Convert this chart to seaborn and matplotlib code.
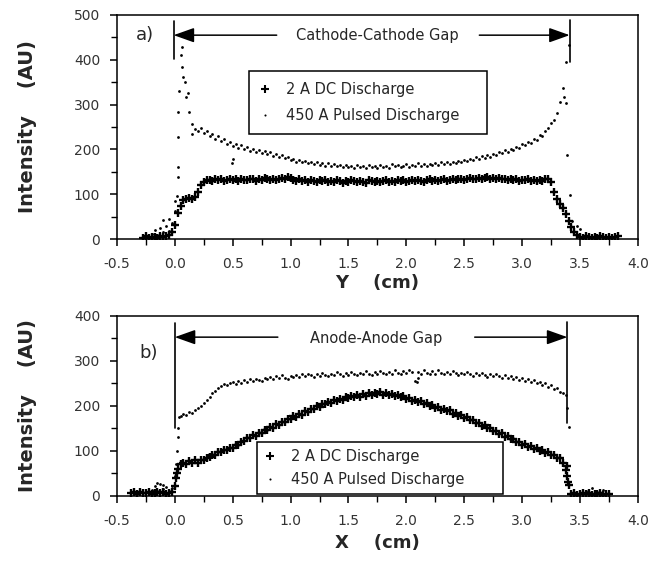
import numpy as np
import matplotlib
matplotlib.use("Agg")
import matplotlib.pyplot as plt
from matplotlib.lines import Line2D
from matplotlib.ticker import MultipleLocator
import seaborn as sns

# ---------------- data ----------------
STEP = 0.025

# panel a) : along Y, Cathode-Cathode gap
dc_a_x0 = -0.275
dc_a_y = [3, 6, 2, 5, 4, 2, 7, 4, 6, 9,
          16, 32, 58, 74, 86, 89, 91, 90, 94, 104, 121, 128, 131,
          132, 130, 133, 131, 134, 130, 132, 135, 131, 133,
          130, 134, 132, 131, 135, 133, 130, 134, 132, 136,
          133, 131, 135, 132, 134, 137, 133, 139, 136, 132,
          130, 133, 129, 131, 128, 132, 130, 127, 131, 129,
          132, 128, 130, 127, 131, 129, 126, 130, 128, 131,
          129, 127, 130, 128, 126, 131, 129, 128, 130, 127,
          129, 131, 128, 130, 127, 132, 129, 131, 128, 130,
          131, 129, 132, 130, 128, 131, 133, 130, 132, 129,
          131, 133, 130, 132, 134, 131, 133, 135, 132, 134,
          136, 133, 135, 137, 134, 136, 138, 135, 137, 134,
          136, 133, 135, 132, 134, 131, 133, 130, 132, 131,
          133, 130, 132, 129, 131, 130, 133, 135,
          128, 104, 90, 79, 70, 56, 40, 26, 15, 9,
          5, 3, 6, 4, 2, 5, 3, 6, 4, 3, 5, 2, 4, 6]

pulsed_a_x0 = -0.2
pulsed_a_y = [12, 20, 9, 24, 15, 28, 19, 36,
              62, 160, 410, 362, 318, 284, 256, 246, 240,
              247, 236, 241, 231, 234, 224, 229, 219, 223, 213,
              217, 207, 211, 204, 209, 200, 205, 197, 202, 194,
              199, 193, 197, 189, 194, 186, 190, 183, 187, 180,
              182, 176, 179, 173, 177, 171, 175, 169, 173, 168,
              172, 166, 170, 164, 169, 163, 167, 162, 166, 161,
              165, 160, 164, 159, 166, 161, 163, 158, 165, 160,
              163, 158, 166, 161, 164, 159, 167, 162, 165, 160,
              164, 168, 161, 166, 163, 169, 164, 167, 162, 168,
              165, 170, 166, 172, 168, 171, 167, 173, 170, 175,
              171, 177, 174, 179, 176, 182, 179, 185, 181, 187,
              184, 190, 188, 194, 191, 198, 195, 202, 199, 206,
              204, 211, 209, 217, 215, 224, 222, 232, 230, 242,
              248, 258, 266, 282, 305, 336, 395, 432]
pulsed_a_extra_x = [-0.1, -0.05, 0.0, 0.02, 0.03, 0.03, 0.03, 0.04, 0.06, 0.065,
                    0.085, 0.11, 0.15, 0.49, 0.5, 3.36, 3.38, 3.385, 3.41, 3.43,
                    3.47, 3.5]
pulsed_a_extra_y = [42, 45, 85, 95, 138, 228, 283, 330, 428, 385,
                    350, 326, 235, 170, 178, 317, 304, 188, 98, 40,
                    30, 22]

# panel b) : along X, Anode-Anode gap
dc_b_x0 = -0.375
dc_b_y = [6, 8, 5, 9, 7, 6, 8, 5, 7, 9, 6, 8, 5, 7, 9,
          22, 60, 70,
          74, 71, 78, 74, 79, 73, 80, 81, 85, 86,
          91, 92, 97, 97, 102, 102, 107, 107, 113, 113,
          120, 122, 129, 128, 135, 134, 141, 139, 147, 146,
          153, 152, 159, 158, 165, 164, 171, 170, 177, 176,
          182, 181, 188, 187, 194, 193, 199, 198, 205, 204,
          209, 207, 213, 211, 216, 214, 219, 217, 222, 219,
          224, 221, 226, 223, 228, 224, 229, 226, 230, 225,
          229, 224, 227, 222, 225, 219, 222, 216, 218, 212,
          214, 208, 210, 204, 206, 200, 202, 196, 198, 192,
          194, 188, 190, 183, 185, 178, 180, 174, 175, 168,
          169, 162, 163, 156, 157, 150, 151, 144, 145, 138,
          139, 132, 133, 126, 127, 120, 121, 114, 115, 108,
          110, 104, 106, 100, 102, 96, 98, 91, 92, 84,
          85, 74, 58, 24,
          4, 6, 3, 5, 7, 4, 6, 3, 5, 4, 6, 3, 5, 4]
dc_b_extra_x = [0.01, 0.015, 3.385, 3.39, 3.395]
dc_b_extra_y = [40, 52, 66, 45, 32]

pulsed_b_x0 = -0.2
pulsed_b_y = [14, 22, 12, 26, 16, 20, 11, 18,
              45, 150, 178,
              182, 180, 186, 184, 190, 196, 200, 206, 214, 220,
              228, 234, 240, 244, 249, 246, 251, 253, 249, 255,
              252, 257, 254, 259, 256, 261, 258, 255, 262, 259,
              264, 260, 266, 262, 268, 263, 260, 267, 264, 269,
              265, 270, 266, 272, 268, 264, 271, 267, 273, 269,
              266, 272, 268, 275, 270, 267, 273, 269, 276, 271,
              268, 274, 270, 277, 272, 269, 276, 271, 278, 273,
              270, 276, 272, 279, 274, 271, 277, 273, 280, 275,
              255, 276, 272, 280, 274, 270, 277, 272, 279, 274,
              270, 276, 271, 277, 273, 268, 274, 270, 276, 271,
              267, 273, 268, 274, 269, 265, 271, 267, 272, 266,
              263, 268, 262, 267, 261, 265, 258, 263, 256, 260,
              253, 257, 250, 254, 247, 250, 243, 246, 238, 240,
              232, 229, 224]
pulsed_b_extra_x = [-0.15, -0.1, 0.01, 0.02, 0.03, 0.035, 2.09, 2.1, 3.39, 3.4,
                    3.55, 3.6, 3.65, 3.7]
pulsed_b_extra_y = [28, 24, 70, 100, 131, 176, 253, 262, 196, 154,
                    12, 18, 8, 14]

x_ticks = [-0.5, 0.0, 0.5, 1.0, 1.5, 2.0, 2.5, 3.0, 3.5, 4.0]
y_ticks_a = [0, 100, 200, 300, 400, 500]
y_ticks_b = [0, 100, 200, 300, 400]
labels = ["2 A DC Discharge", "450 A Pulsed Discharge"]


def grid(x0, vals):
    return np.round(x0 + STEP * np.arange(len(vals)), 4)


# ---------------- figure ----------------
sns.set_style("ticks")
plt.rcParams['font.family'] = ['DejaVu Sans']

fig = plt.figure(figsize=(6.53, 5.66), dpi=100)
ax1 = fig.add_axes([0.179, 0.5777, 0.798, 0.3958])
ax2 = fig.add_axes([0.179, 0.1237, 0.798, 0.318])

DC_KW = dict(marker='+', s=34, color='black', linewidth=1.7, zorder=3)
PU_KW = dict(marker='o', s=4, color='black', linewidth=0, zorder=2)

# panel a
sns.scatterplot(x=np.concatenate([grid(pulsed_a_x0, pulsed_a_y), pulsed_a_extra_x]),
                y=np.concatenate([pulsed_a_y, pulsed_a_extra_y]), ax=ax1, **PU_KW)
sns.scatterplot(x=grid(dc_a_x0, dc_a_y), y=dc_a_y, ax=ax1, **DC_KW)
# panel b
sns.scatterplot(x=np.concatenate([grid(pulsed_b_x0, pulsed_b_y), pulsed_b_extra_x]),
                y=np.concatenate([pulsed_b_y, pulsed_b_extra_y]), ax=ax2, **PU_KW)
sns.scatterplot(x=np.concatenate([grid(dc_b_x0, dc_b_y), dc_b_extra_x]),
                y=np.concatenate([dc_b_y, dc_b_extra_y]), ax=ax2, **DC_KW)

for ax, yt in ((ax1, y_ticks_a), (ax2, y_ticks_b)):
    ax.set_xlim(-0.5, 4.0)
    ax.set_ylim(yt[0], yt[-1])
    ax.set_xticks(x_ticks)
    ax.set_xticklabels([f"{v:.1f}" for v in x_ticks])
    ax.set_yticks(yt)
    ax.set_yticklabels([str(v) for v in yt])
    ax.xaxis.set_minor_locator(MultipleLocator(0.25))
    ax.yaxis.set_minor_locator(MultipleLocator(50))
    ax.tick_params(which='major', direction='out', length=5, width=1.1,
                   labelsize=10, labelcolor='#333333', pad=7, color='black')
    ax.tick_params(which='minor', direction='out', length=4, width=1.0, color='black')
    ax.tick_params(axis='x', which='major', pad=8)
    for sp in ax.spines.values():
        sp.set_visible(True)
        sp.set_linewidth(1.1)
        sp.set_color('black')

ax1.set_ylabel("Intensity    (AU)", fontsize=14, fontweight='bold')
ax2.set_ylabel("Intensity    (AU)", fontsize=14, fontweight='bold')
ax1.set_xlabel("Y    (cm)", fontsize=13, fontweight='bold')
ax2.set_xlabel("X    (cm)", fontsize=13, fontweight='bold')
for ax, xl_y in ((ax1, -0.196), (ax2, -0.261)):
    ax.yaxis.label.set_va('center')
    ax.yaxis.set_label_coords(-0.171, 0.5)
    ax.xaxis.label.set_va('center')
    ax.xaxis.set_label_coords(0.5, xl_y)

# ---------------- annotations ----------------
ARROW = dict(arrowstyle='-|>,head_length=0.9,head_width=0.32', color='black',
             lw=1.1, mutation_scale=14, shrinkA=0, shrinkB=0)

# panel a
ax1.plot([-0.01, -0.01], [402, 487], color='black', lw=1.2)
ax1.plot([3.41, 3.41], [395, 489], color='black', lw=1.2)
ax1.annotate('', xy=(-0.01, 455), xytext=(0.88, 455), arrowprops=ARROW)
ax1.annotate('', xy=(3.41, 455), xytext=(2.63, 455), arrowprops=ARROW)
ax1.text(1.745, 455, "Cathode-Cathode Gap", ha='center', va='center', fontsize=10.5)
ax1.text(-0.26, 455, "a)", ha='center', va='center', fontsize=13)

# panel b
ax2.plot([0.0, 0.0], [151, 384], color='black', lw=1.2)
ax2.plot([3.39, 3.39], [162, 387], color='black', lw=1.2)
ax2.annotate('', xy=(0.0, 353), xytext=(0.89, 353), arrowprops=ARROW)
ax2.annotate('', xy=(3.39, 353), xytext=(2.59, 353), arrowprops=ARROW)
ax2.text(1.74, 350, "Anode-Anode Gap", ha='center', va='center', fontsize=10.5)
ax2.text(-0.23, 318, "b)", ha='center', va='center', fontsize=13)

# ---------------- legends ----------------
handles = [Line2D([], [], marker='+', ls='', color='black', markersize=6, mew=1.5),
           Line2D([], [], marker='o', ls='', color='black', markersize=1.5, mew=0)]
leg1 = ax1.legend(handles, labels, loc='center', bbox_to_anchor=(0.253, 0.469, 0.457, 0.281),
                  mode='expand', fontsize=10.5, frameon=True, fancybox=False,
                  edgecolor='black', framealpha=1, borderpad=0.75, labelspacing=0.75,
                  handlelength=0.8, handletextpad=1.0, borderaxespad=0)
leg1.get_frame().set_linewidth(1.1)
leg2 = ax2.legend(handles, labels, loc='center', bbox_to_anchor=(0.269, 0.011, 0.472, 0.289),
                  mode='expand', fontsize=10.5, frameon=True, fancybox=False,
                  edgecolor='black', framealpha=1, borderpad=0.5, labelspacing=0.5,
                  handlelength=0.8, handletextpad=1.0, borderaxespad=0)
leg2.get_frame().set_linewidth(1.1)

fig.savefig("out.png", dpi=100)
